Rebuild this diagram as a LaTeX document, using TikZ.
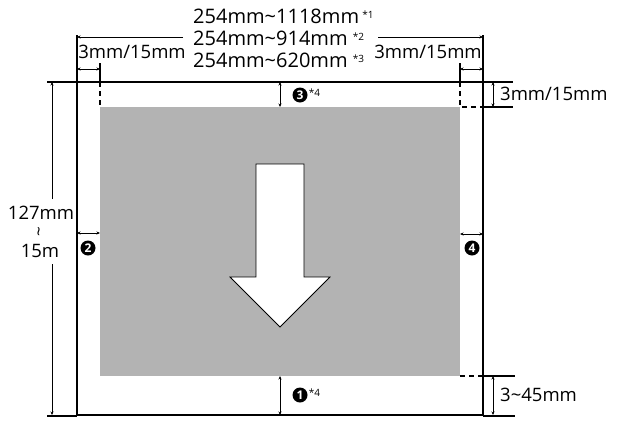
\documentclass[tikz,border=0pt]{standalone}
\usepackage{fontspec}
\setmainfont{Open Sans}
\usetikzlibrary{arrows.meta}
\definecolor{printarea}{HTML}{B3B3B3}
\newcommand{\note}[1]{\raisebox{5pt}{\fontsize{10}{10}\selectfont *#1}}

\begin{document}
\begin{tikzpicture}[x=1pt,y=-1pt,
	dim/.style={line width=0.6pt,{Stealth[length=3.5pt,width=3pt]}-{Stealth[length=3.5pt,width=3pt]}},
	dimend/.style={line width=0.6pt,-{Stealth[length=3.5pt,width=3pt]}},
	ledge/.style={line width=2.2pt},
	edge/.style={line width=1.1pt},
	cut/.style={line width=1.6pt,dash pattern=on 5pt off 4pt},
	lbl/.style={inner sep=0pt,font=\fontsize{18.5}{22}\selectfont},
	num/.style={circle,fill=black,text=white,inner sep=0pt,minimum size=15pt,font=\bfseries\fontsize{12}{12}\selectfont}]
	
	\useasboundingbox (0,0) rectangle (621,426);
	
	% paper and print area
	\coordinate (tl) at (77,82);
	\coordinate (tr) at (483,82);
	\coordinate (bl) at (77,415);
	\coordinate (br) at (483,415);
	\coordinate (gtl) at (100,107);
	\coordinate (gbr) at (460,376);
	\fill[printarea] (gtl) rectangle (gbr);
	\draw[edge] (77,35) -- (bl) -- (br) -- (483,35);
	\draw[edge] (tl) -- (tr);
	
	% ledges
	\draw[ledge] (47,82) -- (tl);
	\draw[ledge] (47,416) -- (77,416);
	\draw[ledge] (tr) -- (513,82);
	\draw[ledge] (483,107) -- (513,107);
	\draw[ledge] (483,376) -- (515,376);
	\draw[ledge] (483,416) -- (515,416);
	
	% margin marks
	\draw[line width=1.6pt] (100,63) -- (100,82);
	\draw[line width=1.6pt] (460,63) -- (460,82);
	\draw[cut] (100,82) -- (gtl);
	\draw[cut] (460,82) -- (460,107) -- (483,107);
	\draw[cut] (gbr) -- (483,376);
	
	% big arrow
	\draw[fill=white,line width=0.8pt] (256,164) -- (304,164) -- (304,277) -- (330,277)
		-- (280,327) -- (230,277) -- (256,277) -- cycle;
	
	% width
	\node[lbl,font=\fontsize{20}{22}\selectfont,anchor=west,align=left] (width) at (193,38)
		{254mm\textasciitilde1118mm\,\note{1}\\254mm\textasciitilde914mm \note{2}\\254mm\textasciitilde620mm \note{3}};
	\coordinate (wl) at (183,37);
	\coordinate (wr) at (378,37);
	\draw[dimend] (wl) -- (77,37);
	\draw[dimend] (wr) -- (483,37);
	
	% side margins on top
	\node[lbl] (mtl) at (132,52) {3mm/15mm};
	\node[lbl] (mtr) at (428,52) {3mm/15mm};
	\draw[dim] (77,69) -- (100,69);
	\draw[dim] (460,69) -- (483,69);
	
	% top margin
	\draw[dim] (493,82) -- (493,107);
	\node[lbl,anchor=west] (mt) at (500,94) {3mm/15mm};
	
	% bottom margin
	\draw[dim] (493,376) -- (493,415);
	\node[lbl,anchor=west] (mb) at (500,395) {3\textasciitilde45mm};
	
	% length
	\node[lbl] (len1) at (41,213) {127mm};
	\node[inner sep=0pt] (len2) at (41,232) {\rotatebox{90}{\fontsize{17}{17}\selectfont\textasciitilde}};
	\node[lbl] (len3) at (40,251) {15m};
	\draw[dimend] (52,199) -- (52,82);
	\draw[dimend] (52,264) -- (52,415);
	
	% numbered margins
	\draw[dim] (280,82) -- (280,107);
	\node[num] (n3) at (300,95) {3};
	\node[anchor=west,inner sep=1pt] (s3) at (n3.east) {\note{4}};
	\draw[dim] (280,376) -- (280,415);
	\node[num] (n1) at (300,395) {1};
	\node[anchor=west,inner sep=1pt] (s1) at (n1.east) {\note{4}};
	\draw[dim] (77,233) -- (100,233);
	\node[num] (n2) at (88,248) {2};
	\draw[dim] (460,234) -- (483,234);
	\node[num] (n4) at (472,248) {4};
	
\end{tikzpicture}
\end{document}
